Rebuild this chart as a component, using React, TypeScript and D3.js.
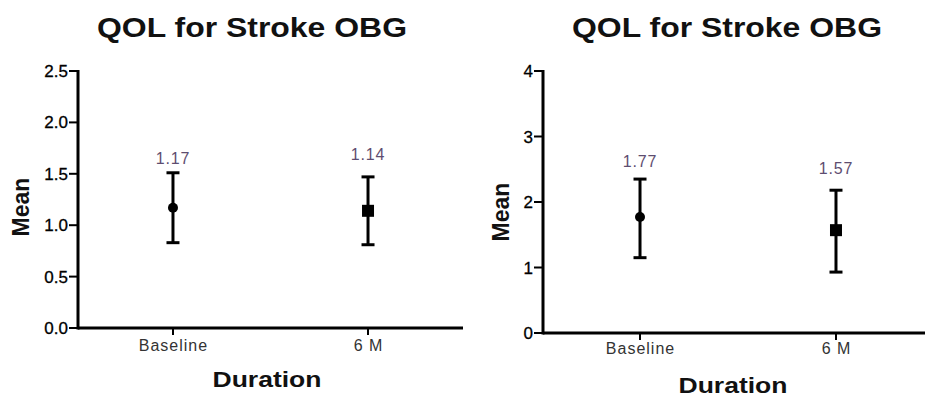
import React from "react";
import * as d3 from "d3";

const categories = ["Baseline", "6 M"];
const leftMeans = [1.17, 1.14];
const leftUpper = [1.51, 1.47];
const leftLower = [0.83, 0.81];
const leftTicks = [0, 0.5, 1.0, 1.5, 2.0, 2.5];
const rightMeans = [1.77, 1.57];
const rightUpper = [2.35, 2.18];
const rightLower = [1.15, 0.93];
const rightTicks = [0, 1, 2, 3, 4];
const titleText = "QOL for Stroke OBG";
const xTitle = "Duration";
const yTitle = "Mean";

const FONT = "'Liberation Sans', Arial, Helvetica, sans-serif";

type PanelProps = {
  means: number[];
  upper: number[];
  lower: number[];
  ticks: number[];
  fmt: string;
  x0: number;
  x1: number;
  pad: number;
  yTop: number;
  yBottom: number;
  titleX: number;
  durX: number;
  durY: number;
  meanX: number;
  meanY: number;
  catY: number;
  labelGap: number[];
};

function Panel(p: PanelProps) {
  const y = d3
    .scaleLinear()
    .domain([p.ticks[0], p.ticks[p.ticks.length - 1]])
    .range([p.yBottom, p.yTop]);
  const x = d3.scalePoint<string>().domain(categories).range([p.x0, p.x1]).padding(p.pad);
  const f = d3.format(p.fmt);
  const lf = d3.format(".2f");
  const cap = 6.5;
  return (
    <g>
      <text
        x={p.titleX}
        y={37}
        textAnchor="middle"
        fontFamily={FONT}
        fontWeight="bold"
        fontSize={27}
        textLength={310}
        lengthAdjust="spacingAndGlyphs"
        fill="#111"
      >
        {titleText}
      </text>
      <line x1={p.x0} x2={p.x0} y1={p.yTop - 1} y2={p.yBottom + 1.5} stroke="#000" strokeWidth={3} />
      {p.ticks.map((t) => (
        <g key={t}>
          <line x1={p.x0 - 9} x2={p.x0} y1={y(t)} y2={y(t)} stroke="#000" strokeWidth={2} />
          <text
            x={p.x0 - 10}
            y={y(t) + 6}
            textAnchor="end"
            fontFamily={FONT}
            fontSize={17}
            fill="#000"
            stroke="#000"
            strokeWidth={0.3}
          >
            {f(t)}
          </text>
        </g>
      ))}
      <line x1={p.x0} x2={p.x1} y1={p.yBottom} y2={p.yBottom} stroke="#000" strokeWidth={3} />
      {categories.map((c) => (
        <g key={c}>
          <line x1={x(c)} x2={x(c)} y1={p.yBottom} y2={p.yBottom + 7} stroke="#000" strokeWidth={2} />
          <text
            x={(x(c) as number) + 0.5}
            y={p.catY}
            textAnchor="middle"
            fontFamily={FONT}
            fontSize={16}
            letterSpacing={1}
            fill="#333"
          >
            {c}
          </text>
        </g>
      ))}
      {categories.map((c, i) => {
        const cx = x(c) as number;
        return (
          <g key={"e" + c}>
            <line x1={cx} x2={cx} y1={y(p.upper[i])} y2={y(p.lower[i])} stroke="#000" strokeWidth={3} />
            <line x1={cx - cap} x2={cx + cap} y1={y(p.upper[i])} y2={y(p.upper[i])} stroke="#000" strokeWidth={3} />
            <line x1={cx - cap} x2={cx + cap} y1={y(p.lower[i])} y2={y(p.lower[i])} stroke="#000" strokeWidth={3} />
            {i === 0 ? (
              <circle cx={cx} cy={y(p.means[i])} r={5} fill="#000" />
            ) : (
              <rect x={cx - 6} y={y(p.means[i]) - 6} width={12} height={12} fill="#000" />
            )}
            <text
              x={cx}
              y={y(p.upper[i]) - p.labelGap[i]}
              textAnchor="middle"
              fontFamily={FONT}
              fontSize={16}
              letterSpacing={0.8}
              fill="#5e4d70"
            >
              {lf(p.means[i])}
            </text>
          </g>
        );
      })}
      <text
        x={p.durX}
        y={p.durY}
        textAnchor="middle"
        fontFamily={FONT}
        fontWeight="bold"
        fontSize={22}
        textLength={109}
        lengthAdjust="spacingAndGlyphs"
        fill="#111"
      >
        {xTitle}
      </text>
      <text
        transform={`translate(${p.meanX},${p.meanY}) rotate(-90)`}
        textAnchor="middle"
        fontFamily={FONT}
        fontWeight="bold"
        fontSize={23}
        fill="#111"
      >
        {yTitle}
      </text>
    </g>
  );
}

export default function App() {
  return (
    <svg
      width={925}
      height={398}
      style={{ position: "absolute", left: 0, top: 0, background: "#fff" }}
    >
      <rect width={925} height={398} fill="#fff" />
      <Panel
        means={leftMeans}
        upper={leftUpper}
        lower={leftLower}
        ticks={leftTicks}
        fmt=".1f"
        x0={78}
        x1={463}
        pad={0.487}
        yTop={71}
        yBottom={328}
        titleX={252}
        durX={267}
        durY={387}
        meanX={29}
        meanY={207}
        catY={351}
        labelGap={[9, 17]}
      />
      <Panel
        means={rightMeans}
        upper={rightUpper}
        lower={rightLower}
        ticks={rightTicks}
        fmt="d"
        x0={543}
        x1={933}
        pad={0.495}
        yTop={71}
        yBottom={333}
        titleX={727}
        durX={733}
        durY={393}
        meanX={509}
        meanY={212}
        catY={354}
        labelGap={[12, 16]}
      />
    </svg>
  );
}
